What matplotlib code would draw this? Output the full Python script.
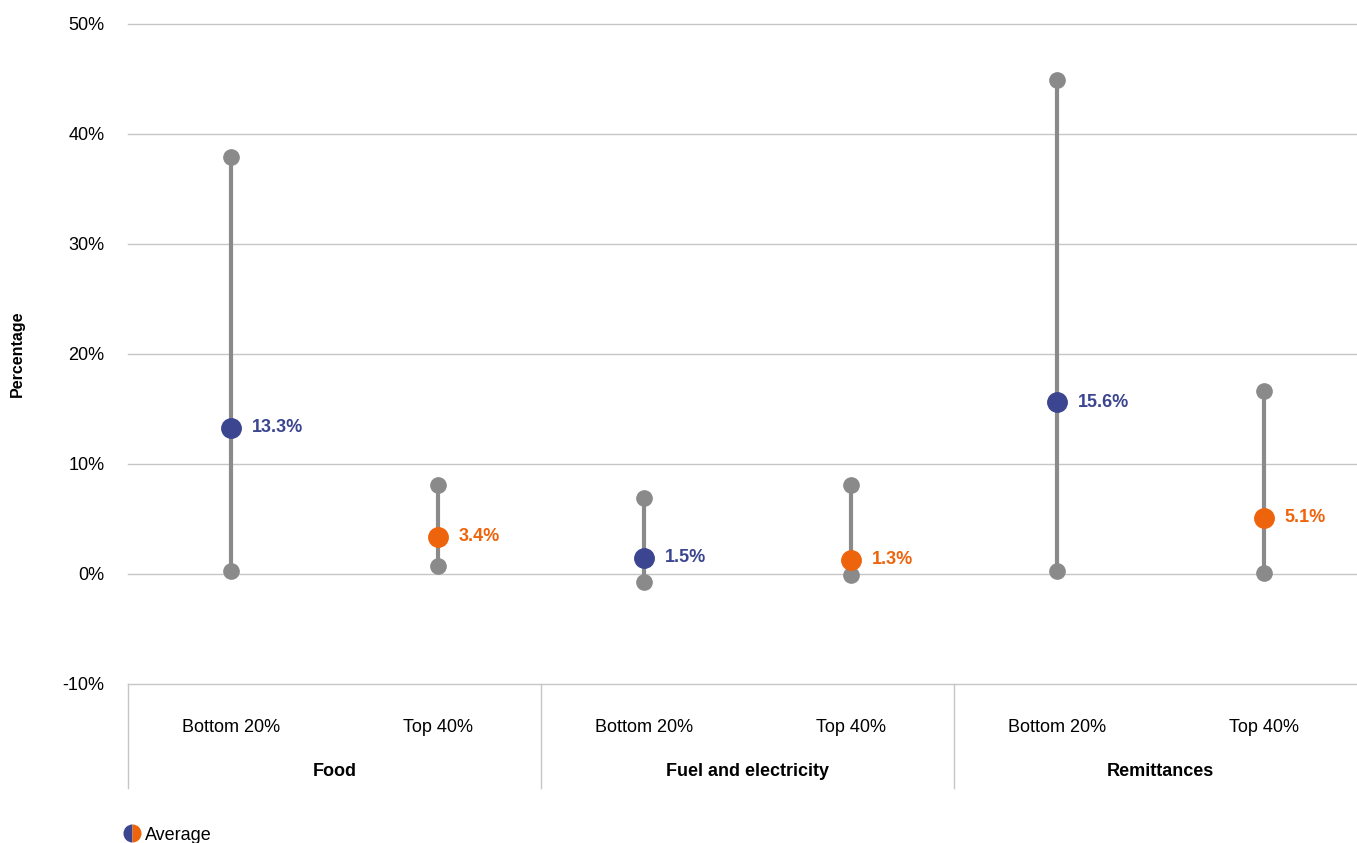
import matplotlib
matplotlib.use("Agg")
import matplotlib.pyplot as plt
from matplotlib.lines import Line2D

plt.rcParams['font.family'] = ['Liberation Sans', 'DejaVu Sans']

groups = ["Food", "Fuel and electricity", "Remittances"]
categories = ["Bottom 20%", "Top 40%"] * 3
low = [0.3, 0.7, -0.7, -0.1, 0.3, 0.1]
high = [37.9, 8.1, 6.9, 8.1, 44.9, 16.6]
avg = [13.3, 3.4, 1.5, 1.3, 15.6, 5.1]
yticks = [-10, 0, 10, 20, 30, 40, 50]

blue = "#3b4590"
orange = "#ee640c"
gray = "#8a8a8a"
grid = "#c6c6c6"
avg_colors = [blue, orange] * 3

fig = plt.figure(figsize=(13.57, 8.43), dpi=100)
ax = fig.add_axes([128 / 1357, 159 / 843, 1 - 128 / 1357, 660 / 843])

x = list(range(len(categories)))
for i in x:
    ax.plot([i, i], [low[i], high[i]], color=gray, lw=3, solid_capstyle='butt', zorder=3)
    ax.plot([i, i], [low[i], high[i]], 'o', color=gray, ms=11, zorder=4)
    ax.plot(i, avg[i], 'o', color=avg_colors[i], ms=14, zorder=5)
    ax.annotate(f"{avg[i]:.1f}%", (i, avg[i]), xytext=(15, 0), textcoords='offset points',
                va='center', ha='left', fontsize=13, fontweight='bold', color=avg_colors[i])

ax.set_xlim(-0.5, 5.45)
ax.set_ylim(-10, 50)
ax.set_yticks(yticks)
ax.set_yticklabels([f"{t}%" for t in yticks], fontsize=13)
for t in yticks:
    ax.axhline(t, color=grid, lw=1, zorder=1, clip_on=False)
ax.tick_params(axis='y', length=0, pad=17)
ax.set_xticks(x)
ax.set_xticklabels(categories, fontsize=13)
ax.tick_params(axis='x', length=0, pad=25)
for s in ax.spines.values():
    s.set_visible(False)
ax.set_ylabel("Percentage", fontsize=11.5, fontweight='bold')
ax.yaxis.set_label_coords(-0.084, 0.5)

# group labels and separators
for g, name in enumerate(groups):
    ax.text(2 * g + 0.5, -0.132, name, transform=ax.get_xaxis_transform(),
            ha='center', va='center', fontsize=13, fontweight='bold')
for xs in [-0.5, 1.5, 3.5]:
    ax.plot([xs, xs], [0, -0.158], color=grid, lw=1, transform=ax.get_xaxis_transform(),
            clip_on=False)

handle = Line2D([], [], marker='o', ls='', ms=13, fillstyle='left',
                markerfacecolor=blue, markerfacecoloralt=orange, markeredgewidth=0)
fig.legend([handle], ["Average"], loc='lower left', bbox_to_anchor=(0.079, -0.02),
           frameon=False, fontsize=13, handletextpad=0.2, handlelength=1.0)

fig.savefig("out.png", dpi=100)
